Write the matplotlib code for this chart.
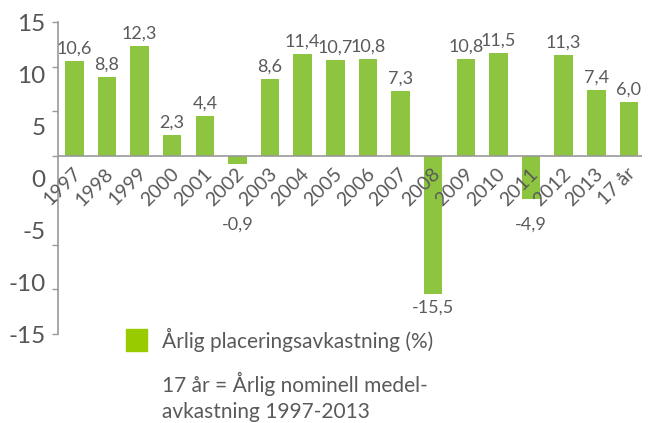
import matplotlib.pyplot as plt
import matplotlib.transforms as mtransforms

categories = ["1997", "1998", "1999", "2000", "2001", "2002", "2003", "2004", "2005",
              "2006", "2007", "2008", "2009", "2010", "2011", "2012", "2013", "17 år"]
values = [10.6, 8.8, 12.3, 2.3, 4.4, -0.9, 8.6, 11.4, 10.7,
          10.8, 7.3, -15.5, 10.8, 11.5, -4.9, 11.3, 7.4, 6.0]
ytick_labels = ["15", "10", "5", "0", "-5", "-10", "-15"]

plt.rcParams['font.family'] = ['Lato', 'DejaVu Sans']

bar_color = "#8dc540"
text_color = "#5a5a5a"
axis_color = "#999999"

fig = plt.figure(figsize=(6.49, 4.23), dpi=100)
ax = fig.add_axes([58 / 649, 1 - 334 / 423, (642 - 58) / 649, (334 - 22) / 423])

x = list(range(len(categories)))
ax.bar(x, values, width=0.57, color=bar_color, zorder=2)
ax.axhline(0, color=axis_color, lw=1.2, zorder=3)

ax.set_xlim(-0.5, 17.4)
ax.set_ylim(-20, 15)

for s in ["top", "right", "bottom"]:
    ax.spines[s].set_visible(False)
ax.spines["left"].set_color(axis_color)
ax.spines["left"].set_linewidth(1.2)

# tick marks every 5 on the real axis, labels drawn by a second axis
ax.set_yticks(range(-20, 16, 5))
ax.set_yticklabels([])
ax.tick_params(axis="y", length=4, color=axis_color, width=1)

ax2 = ax.twinx()
ax2.set_ylim(-15, 15)
ax2.set_yticks([15, 10, 5, 0, -5, -10, -15])
ax2.set_yticklabels(ytick_labels)
ax2.yaxis.tick_left()
ax2.tick_params(axis="y", length=0, pad=9, labelsize=17.5, labelcolor="#555555")
for s in ax2.spines.values():
    s.set_visible(False)

# year labels under the zero line
ax.set_xticks([])
shift = mtransforms.ScaledTranslation(10 / 100, -9 / 100, fig.dpi_scale_trans)
for i, c in enumerate(categories):
    ax.text(i, 0, c, rotation=45, ha="right", va="top", fontsize=14,
            color=text_color, transform=ax.transData + shift)

for i, v in enumerate(values):
    label = f"{v:.1f}".replace(".", ",")
    if v >= 0:
        ax.text(i, v + 0.5, label, ha="center", va="bottom", fontsize=13,
                color=text_color)
    else:
        ax.text(i, min(v - 0.6, -6.8), label, ha="center", va="top", fontsize=13,
                color=text_color)

# legend and note
fig.patches.append(plt.Rectangle((126 / 649, 1 - 351 / 423), 21 / 649, 22 / 423,
                                 transform=fig.transFigure, color="#99cc00"))
fig.text(162 / 649, 1 - 340 / 423, "Årlig placeringsavkastning (%)", fontsize=15,
         color=text_color, va="center")
fig.text(162 / 649, 1 - 384 / 423, "17 år = Årlig nominell medel-", fontsize=15,
         color=text_color, va="center")
fig.text(162 / 649, 1 - 412 / 423, "avkastning 1997-2013", fontsize=15,
         color=text_color, va="center")

plt.savefig("out.png", dpi=100)
